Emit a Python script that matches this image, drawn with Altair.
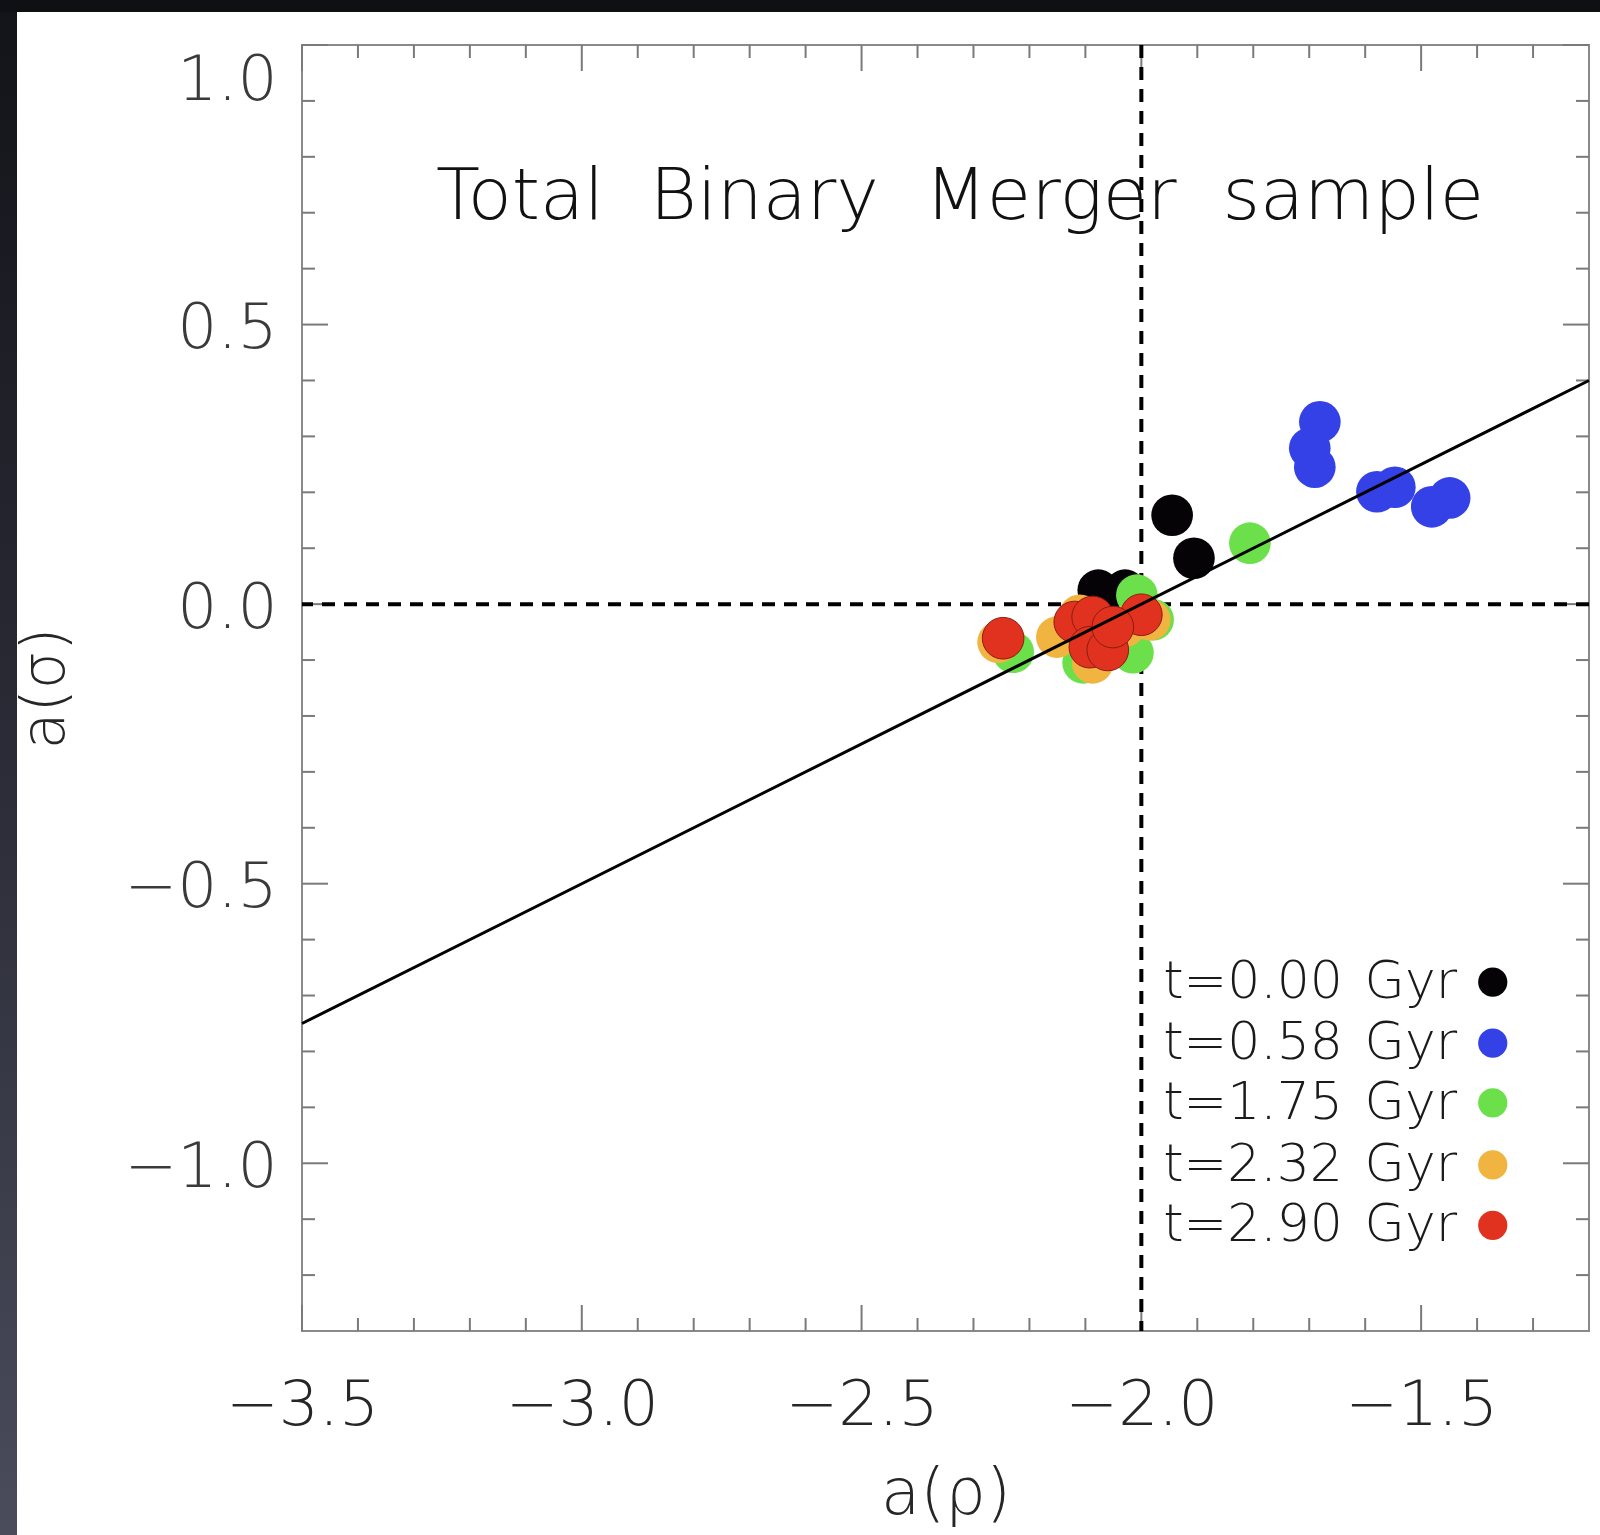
import altair as alt
import pandas as pd

# ---------------- data ----------------
X_MAJOR = [-3.5, -3.0, -2.5, -2.0, -1.5]
X_MINOR = [-3.4, -3.3, -3.2, -3.1, -2.9, -2.8, -2.7, -2.6, -2.4, -2.3, -2.2, -2.1,
           -1.9, -1.8, -1.7, -1.6, -1.4, -1.3]
Y_MAJOR = [-1.0, -0.5, 0.0, 0.5, 1.0]
Y_MINOR = [-1.2, -1.1, -0.9, -0.8, -0.7, -0.6, -0.4, -0.3, -0.2, -0.1,
           0.1, 0.2, 0.3, 0.4, 0.6, 0.7, 0.8, 0.9]

NB = "\u00a0"
GAP = NB + "\u200a"
GROUPS = ["t=0.00" + GAP + "Gyr", "t=0.58" + GAP + "Gyr", "t=1.75" + GAP + "Gyr",
          "t=2.32" + GAP + "Gyr", "t=2.90" + GAP + "Gyr"]
COLORS = ["#050305", "#3341e6", "#6ce04a", "#f2b440", "#e0321f"]

T000_X = [-1.945, -1.906, -2.077, -2.029, -2.07, -2.05, -2.10]
T000_Y = [0.159, 0.082, 0.025, 0.025, 0.0, -0.03, -0.05]
T058_X = [-1.681, -1.699, -1.690, -1.579, -1.547, -1.449, -1.481]
T058_Y = [0.326, 0.279, 0.245, 0.201, 0.209, 0.190, 0.174]
T175_X = [-1.806, -2.229, -2.008, -1.979, -2.015, -2.104, -2.07]
T175_Y = [0.109, -0.086, 0.016, -0.028, -0.087, -0.105, -0.06]
T232_X = [-2.256, -2.151, -2.087, -1.985, -2.11, -2.06, -2.03]
T232_Y = [-0.068, -0.059, -0.105, -0.028, -0.02, -0.08, -0.04]
T290_X = [-2.247, -2.119, -2.087, -2.092, -2.060, -2.0, -2.051]
T290_Y = [-0.061, -0.032, -0.023, -0.077, -0.082, -0.019, -0.041]

FIT_X = [-3.5, -1.2]
FIT_Y = [-0.75, 0.40]
DASH_X = [-2.0]
DASH_Y = [0.0]

TITLE_TEXT = "Total" + NB * 2 + "Binary" + NB * 2 + "Merger" + NB * 2 + "sample"
TITLE_POS_X = [-2.324]
TITLE_POS_Y = [0.688]

LEG_TEXT_X = -1.961
LEG_DOT_X = -1.372
LEG_ROW_Y = [-0.676, -0.785, -0.892, -1.003, -1.111]

# ---------------- layout ----------------
W, H = 1287, 1286
PAD_L, PAD_T, PAD_R, PAD_B = 302, 45, 11, 204
FONT = "DejaVu Sans"
FW = 200
MAJ, MIN = 26, 13
TICK_COLOR = "#7a7a7a"

XS = alt.Scale(domain=[-3.5, -1.2], nice=False, zero=False)
YS = alt.Scale(domain=[-1.3, 1.0], nice=False, zero=False)

X_AXIS = alt.Axis(values=X_MAJOR, format=".1f", ticks=False, domain=False, grid=False,
                  labelFont=FONT, labelFontSize=63, labelFontWeight=FW, labelColor="#262626",
                  labelPadding=43, labelFlush=False, labelOverlap=False,
                  title="a(ρ)", titleFont=FONT, titleFontSize=64, titleFontWeight=FW,
                  titleColor="#262626", titleX=W / 2, titleY=182,
                  titleAlign="center", titleBaseline="alphabetic")
Y_AXIS = alt.Axis(values=Y_MAJOR, format=".1f", ticks=False, domain=False, grid=False,
                  labelFont=FONT, labelFontSize=63, labelFontWeight=FW, labelColor="#3a3a3a",
                  labelPadding=25, labelFlush=True, labelOffset=4, labelOverlap=False,
                  title="a(σ)", titleFont=FONT, titleFontSize=60, titleFontWeight=FW,
                  titleColor="#262626", titleAngle=270, titleX=-239, titleY=H / 2,
                  titleAlign="center", titleBaseline="alphabetic")


def xe(field):
    return alt.X(field, type="quantitative", scale=XS, axis=X_AXIS)


def ye(field):
    return alt.Y(field, type="quantitative", scale=YS, axis=Y_AXIS)


layers = []

# dark slide border (decoration outside the plot)
frame_df = pd.DataFrame({"d": [0]})
layers.append(alt.Chart(frame_df).mark_rect(color="#0f1014").encode(
    x=alt.value(-PAD_L), x2=alt.value(W + PAD_R), y=alt.value(-PAD_T), y2=alt.value(12 - PAD_T)))
layers.append(alt.Chart(frame_df).mark_rect(
    color=alt.Gradient(gradient="linear", x1=0, x2=0, y1=0, y2=1,
                       stops=[alt.GradientStop(color="#131419", offset=0),
                              alt.GradientStop(color="#2b2c37", offset=0.5),
                              alt.GradientStop(color="#4a4c5c", offset=1)])).encode(
    x=alt.value(-PAD_L), x2=alt.value(17 - PAD_L), y=alt.value(12 - PAD_T), y2=alt.value(H + PAD_B)))


# tick marks (inward, on all four sides)
def xticks(vals, length):
    df = pd.DataFrame({"v": vals})
    base = alt.Chart(df).mark_rule(color=TICK_COLOR, strokeWidth=2)
    return [base.encode(x=xe("v"), y=alt.value(H), y2=alt.value(H - length)),
            base.encode(x=xe("v"), y=alt.value(0), y2=alt.value(length))]


def yticks(vals, length):
    df = pd.DataFrame({"v": vals})
    base = alt.Chart(df).mark_rule(color=TICK_COLOR, strokeWidth=2)
    return [base.encode(y=ye("v"), x=alt.value(0), x2=alt.value(length)),
            base.encode(y=ye("v"), x=alt.value(W), x2=alt.value(W - length))]


layers += xticks(X_MAJOR, MAJ) + xticks(X_MINOR, MIN)
layers += yticks(Y_MAJOR, MAJ) + yticks(Y_MINOR, MIN)

# dashed reference lines
layers.append(alt.Chart(pd.DataFrame({"v": DASH_Y})).mark_rule(
    color="black", strokeWidth=4, strokeDash=[13, 9]).encode(y=ye("v")))
layers.append(alt.Chart(pd.DataFrame({"v": DASH_X})).mark_rule(
    color="black", strokeWidth=4, strokeDash=[13, 9]).encode(x=xe("v")))

# points
series = [(T000_X, T000_Y), (T058_X, T058_Y), (T175_X, T175_Y), (T232_X, T232_Y), (T290_X, T290_Y)]
for i, (sx, sy) in enumerate(series):
    df = pd.DataFrame({"x": sx, "y": sy})
    stroke = "#8c1c12" if i == 4 else COLORS[i]
    layers.append(alt.Chart(df).mark_circle(
        size=1735, opacity=1, color=COLORS[i], stroke=stroke,
        strokeWidth=1 if i == 4 else 0).encode(x=xe("x"), y=ye("y")))

# fit line
layers.append(alt.Chart(pd.DataFrame({"x": FIT_X, "y": FIT_Y})).mark_line(
    color="black", strokeWidth=3).encode(x=xe("x"), y=ye("y")))

# title text inside the plot
layers.append(alt.Chart(pd.DataFrame({"x": TITLE_POS_X, "y": TITLE_POS_Y, "t": [TITLE_TEXT]})).mark_text(
    font=FONT, fontSize=72, fontWeight=FW, color="#111", align="center", baseline="alphabetic").encode(
    x=xe("x"), y=ye("y"), text="t:N"))

# legend
leg = pd.DataFrame({"label": GROUPS, "y": LEG_ROW_Y, "xt": [LEG_TEXT_X] * 5,
                    "xd": [LEG_DOT_X] * 5, "c": COLORS})
layers.append(alt.Chart(leg).mark_text(
    font=FONT, fontSize=52, fontWeight=FW, color="#1a1a1a", align="left", baseline="middle").encode(
    x=xe("xt"), y=ye("y"), text="label:N"))
layers.append(alt.Chart(leg).mark_circle(size=855, opacity=1).encode(
    x=xe("xd"), y=ye("y"), color=alt.Color("c:N", scale=None)))

chart = alt.layer(*layers).properties(
    width=W, height=H, autosize="none",
    padding={"left": PAD_L, "top": PAD_T, "right": PAD_R, "bottom": PAD_B},
    background="white",
).configure_view(stroke="#8a8a8a", strokeWidth=2)

chart.save("out.html", embed_options={"renderer": "svg", "actions": False})
